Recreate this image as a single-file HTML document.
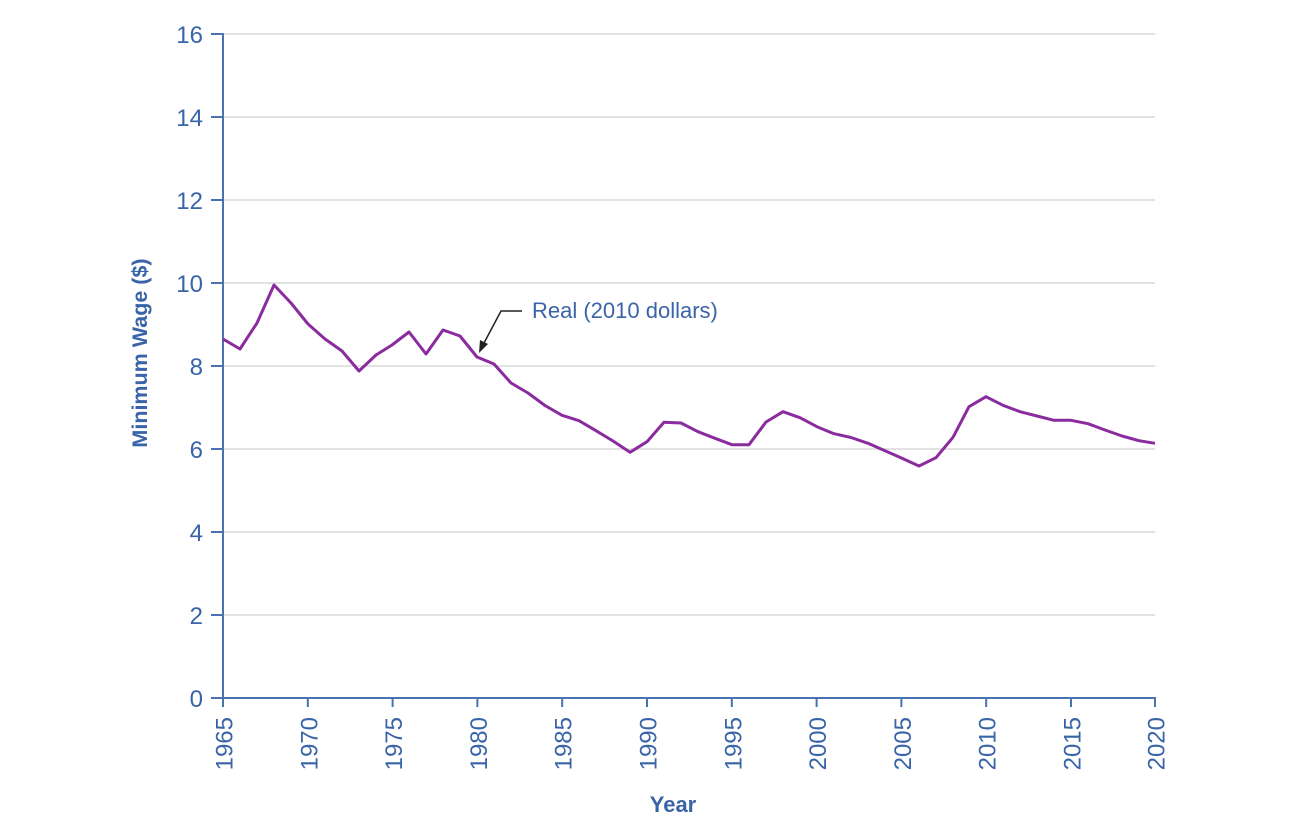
<!DOCTYPE html>
<html><head><meta charset="utf-8"><style>
html,body{margin:0;padding:0;background:#fff;}
svg{display:block;}
text{font-family:"Liberation Sans",Arial,sans-serif;fill:#3a64a8;}
</style></head><body>
<svg width="1300" height="837" viewBox="0 0 1300 837" xmlns="http://www.w3.org/2000/svg">
<g stroke="#d9d9d9" stroke-width="1.5">
<line x1="223" y1="34" x2="1155" y2="34"/>
<line x1="223" y1="117" x2="1155" y2="117"/>
<line x1="223" y1="200" x2="1155" y2="200"/>
<line x1="223" y1="283" x2="1155" y2="283"/>
<line x1="223" y1="366" x2="1155" y2="366"/>
<line x1="223" y1="449" x2="1155" y2="449"/>
<line x1="223" y1="532" x2="1155" y2="532"/>
<line x1="223" y1="615" x2="1155" y2="615"/>
</g>
<g stroke="#4a72b0" stroke-width="2">
<line x1="223" y1="33" x2="223" y2="699"/>
<line x1="211" y1="698" x2="1156" y2="698"/>
<line x1="211" y1="34" x2="223" y2="34"/>
<line x1="211" y1="117" x2="223" y2="117"/>
<line x1="211" y1="200" x2="223" y2="200"/>
<line x1="211" y1="283" x2="223" y2="283"/>
<line x1="211" y1="366" x2="223" y2="366"/>
<line x1="211" y1="449" x2="223" y2="449"/>
<line x1="211" y1="532" x2="223" y2="532"/>
<line x1="211" y1="615" x2="223" y2="615"/>
<line x1="223" y1="698" x2="223" y2="707"/>
<line x1="307.8" y1="698" x2="307.8" y2="707"/>
<line x1="392.6" y1="698" x2="392.6" y2="707"/>
<line x1="477.4" y1="698" x2="477.4" y2="707"/>
<line x1="562.2" y1="698" x2="562.2" y2="707"/>
<line x1="647" y1="698" x2="647" y2="707"/>
<line x1="731.8" y1="698" x2="731.8" y2="707"/>
<line x1="816.6" y1="698" x2="816.6" y2="707"/>
<line x1="901.4" y1="698" x2="901.4" y2="707"/>
<line x1="986.2" y1="698" x2="986.2" y2="707"/>
<line x1="1071" y1="698" x2="1071" y2="707"/>
<line x1="1155" y1="698" x2="1155" y2="707"/>
</g>
<g font-size="24" text-anchor="end">
<text x="203" y="43">16</text>
<text x="203" y="126">14</text>
<text x="203" y="209">12</text>
<text x="203" y="292">10</text>
<text x="203" y="375">8</text>
<text x="203" y="458">6</text>
<text x="203" y="541">4</text>
<text x="203" y="624">2</text>
<text x="203" y="707">0</text>
</g>
<g font-size="24" text-anchor="end">
<text transform="translate(232.5,717) rotate(-90)">1965</text>
<text transform="translate(317.3,717) rotate(-90)">1970</text>
<text transform="translate(402.1,717) rotate(-90)">1975</text>
<text transform="translate(486.9,717) rotate(-90)">1980</text>
<text transform="translate(571.7,717) rotate(-90)">1985</text>
<text transform="translate(656.5,717) rotate(-90)">1990</text>
<text transform="translate(741.3,717) rotate(-90)">1995</text>
<text transform="translate(826.1,717) rotate(-90)">2000</text>
<text transform="translate(910.9,717) rotate(-90)">2005</text>
<text transform="translate(995.7,717) rotate(-90)">2010</text>
<text transform="translate(1080.5,717) rotate(-90)">2015</text>
<text transform="translate(1164.5,717) rotate(-90)">2020</text>
</g>
<text x="673" y="812" font-size="22" font-weight="bold" text-anchor="middle">Year</text>
<text transform="translate(147,353) rotate(-90)" font-size="21.5" font-weight="bold" text-anchor="middle">Minimum Wage ($)</text>
<polyline fill="none" stroke="#8a2b9e" stroke-width="3" stroke-linejoin="round" points="223,339 240,349 257,323 274,285 291,303 308,324 325,339 342,351 359,371 376,355 392,345 409,332 426,354 443,330 460,336 477,357 494,364 511,383 528,393 545,405.5 562,415.3 579,420.7 596,430.7 613,441 630,452.3 647,441.7 664,422.3 681,423 698,431.7 715,438.3 732,444.7 749,444.7 766,422 783,411.7 800,417.7 817,426.7 834,433.7 851,437.5 868,443.3 885,450.7 902,458.3 919,466 936,457.7 953,437.3 969,406.7 986,396.7 1003,405.3 1020,411.7 1037,416 1054,420.3 1071,420.3 1088,423.7 1105,430 1122,436 1139,440.7 1155,443.3"/>
<polyline fill="none" stroke="#222" stroke-width="1.5" points="522,311 501,311 484,343"/>
<polygon fill="#222" points="479,353 480,340 488,344"/>
<text x="532" y="318" font-size="22">Real (2010 dollars)</text>
</svg>
</body></html>
